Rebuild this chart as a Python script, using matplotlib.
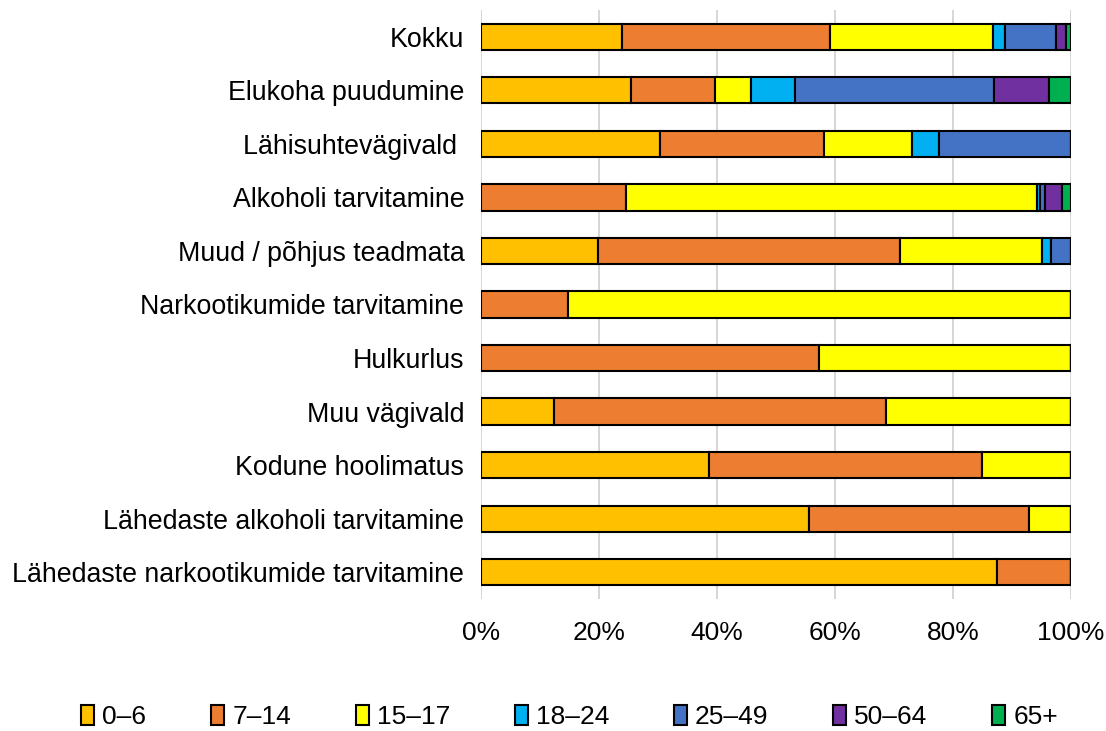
import matplotlib.pyplot as plt
import numpy as np

plt.rcParams['font.family'] = ['Liberation Sans', 'DejaVu Sans']

categories = [
    "Kokku",
    "Elukoha puudumine",
    "Lähisuhtevägivald ",
    "Alkoholi tarvitamine",
    "Muud / põhjus teadmata",
    "Narkootikumide tarvitamine",
    "Hulkurlus",
    "Muu vägivald",
    "Kodune hoolimatus",
    "Lähedaste alkoholi tarvitamine",
    "Lähedaste narkootikumide tarvitamine",
]
age_groups = ["0–6", "7–14", "15–17", "18–24", "25–49", "50–64", "65+"]
colors = ["#FFC000", "#ED7D31", "#FFFF00", "#00B0F0", "#4472C4", "#7030A0", "#00B050"]

# shares in % per category, order of age_groups
v_0_6   = [23.9, 25.4, 30.3, 0.0, 19.8, 0.0, 0.0, 12.4, 38.6, 55.6, 87.5]
v_7_14  = [35.3, 14.3, 27.9, 24.6, 51.2, 14.7, 57.3, 56.2, 46.3, 37.3, 12.5]
v_15_17 = [27.5, 6.1, 14.9, 69.6, 24.1, 85.3, 42.7, 31.4, 15.1, 7.1, 0.0]
v_18_24 = [2.1, 7.4, 4.6, 0.5, 1.5, 0, 0, 0, 0, 0, 0]
v_25_49 = [8.7, 33.8, 22.3, 0.9, 3.4, 0, 0, 0, 0, 0, 0]
v_50_64 = [1.7, 9.3, 0, 2.8, 0, 0, 0, 0, 0, 0, 0]
v_65    = [0.8, 3.7, 0, 1.6, 0, 0, 0, 0, 0, 0, 0]
series = [v_0_6, v_7_14, v_15_17, v_18_24, v_25_49, v_50_64, v_65]

fig = plt.figure(figsize=(11.06, 7.31), dpi=100)
ax = fig.add_axes([481 / 1106, 1 - 599 / 731, 590 / 1106, 589 / 731])

y = np.arange(len(categories))
left = np.zeros(len(categories))
for name, vals, c in zip(age_groups, series, colors):
    vals = np.array(vals, dtype=float)
    ax.barh(y, vals, left=left, height=0.49, color=c, edgecolor="black",
            linewidth=1.5, label=name, zorder=3)
    left += vals

ax.set_xlim(0, 100)
ax.set_ylim(len(categories) - 0.5, -0.5)
ax.set_yticks(y)
ax.set_yticklabels(categories, fontsize=19.3)
ax.set_xticks(np.arange(0, 101, 20))
ax.set_xticklabels([f"{t}%" for t in range(0, 101, 20)], fontsize=19)
ax.tick_params(length=0)
ax.tick_params(axis='x', pad=16)
ax.tick_params(axis='y', pad=12)
ax.xaxis.grid(True, color="#D0D0D0", linewidth=1.2, zorder=0)
for s in ax.spines.values():
    s.set_visible(False)

fig.legend(loc="lower center", bbox_to_anchor=(0.515, -0.03), ncol=7, frameon=False,
           fontsize=19, handlelength=0.5, handleheight=0.8, handletextpad=0.3,
           columnspacing=2.45)

fig.savefig("out.png", dpi=100)
